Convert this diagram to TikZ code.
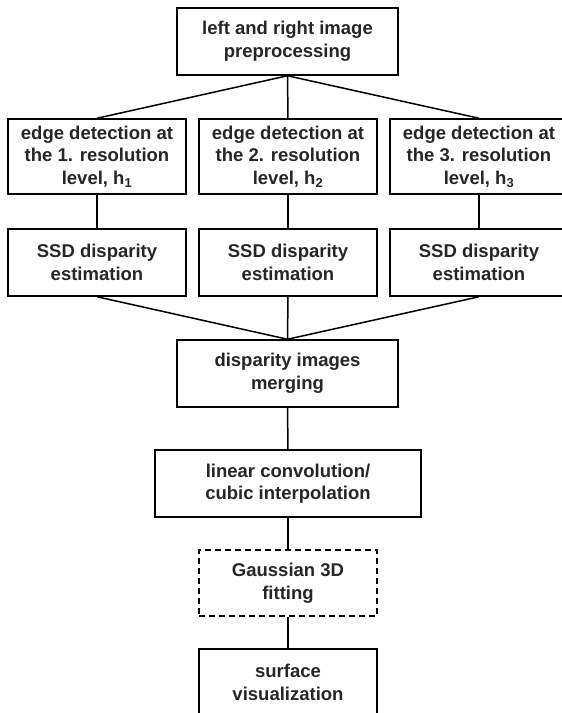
\documentclass[tikz,border=0pt]{standalone}
\usepackage{fontspec}
\setmainfont{Liberation Sans}
\begin{document}
\begin{tikzpicture}[x=1pt,y=-1pt,
  box/.style={draw, line width=1.5pt, inner sep=0pt, align=center,
    font=\bfseries\fontsize{18.5}{22.5}\selectfont, text=black!85},
  wbox/.style={box, minimum width=178pt, minimum height=67pt},
  conn/.style={line width=1.5pt}]
\useasboundingbox (0,0) rectangle (562,713);
\clip (0,0) rectangle (562,713);
\node[box, minimum width=221pt, minimum height=67pt] (top) at (287.5,41.5) {left and right image\\preprocessing};
\node[wbox, minimum height=75pt] (e1) at (97,156.5) {edge detection at\\the 1. resolution\\level, h\textsubscript{1}};
\node[wbox, minimum height=75pt] (e2) at (288,156.5) {edge detection at\\the 2. resolution\\level, h\textsubscript{2}};
\node[wbox, minimum height=75pt] (e3) at (479,156.5) {edge detection at\\the 3. resolution\\level, h\textsubscript{3}};
\node[wbox] (s1) at (97,262.5) {SSD disparity\\estimation};
\node[wbox] (s2) at (288,262.5) {SSD disparity\\estimation};
\node[wbox] (s3) at (479,262.5) {SSD disparity\\estimation};
\node[box, minimum width=221pt, minimum height=67pt] (merge) at (287.5,373.5) {disparity images\\merging};
\node[box, minimum width=266pt, minimum height=67pt] (lin) at (288,483.5) {linear convolution/\\cubic interpolation};
\node[wbox, minimum height=66pt, dash pattern=on 6pt off 4pt] (gauss) at (288,583) {Gaussian 3D\\fitting};
\node[wbox] (surf) at (288,682.5) {surface\\visualization};
\draw[conn] (top.south) -- (e1.north);
\draw[conn] (top.south) -- (e2.north);
\draw[conn] (top.south) -- (e3.north);
\draw[conn] (e1) -- (s1);
\draw[conn] (e2) -- (s2);
\draw[conn] (e3) -- (s3);
\draw[conn] (s1.south) -- (merge.north);
\draw[conn] (s2.south) -- (merge.north);
\draw[conn] (s3.south) -- (merge.north);
\draw[conn] (merge) -- (lin);
\draw[conn] (lin) -- (gauss);
\draw[conn] (gauss) -- (surf);
\end{tikzpicture}
\end{document}
